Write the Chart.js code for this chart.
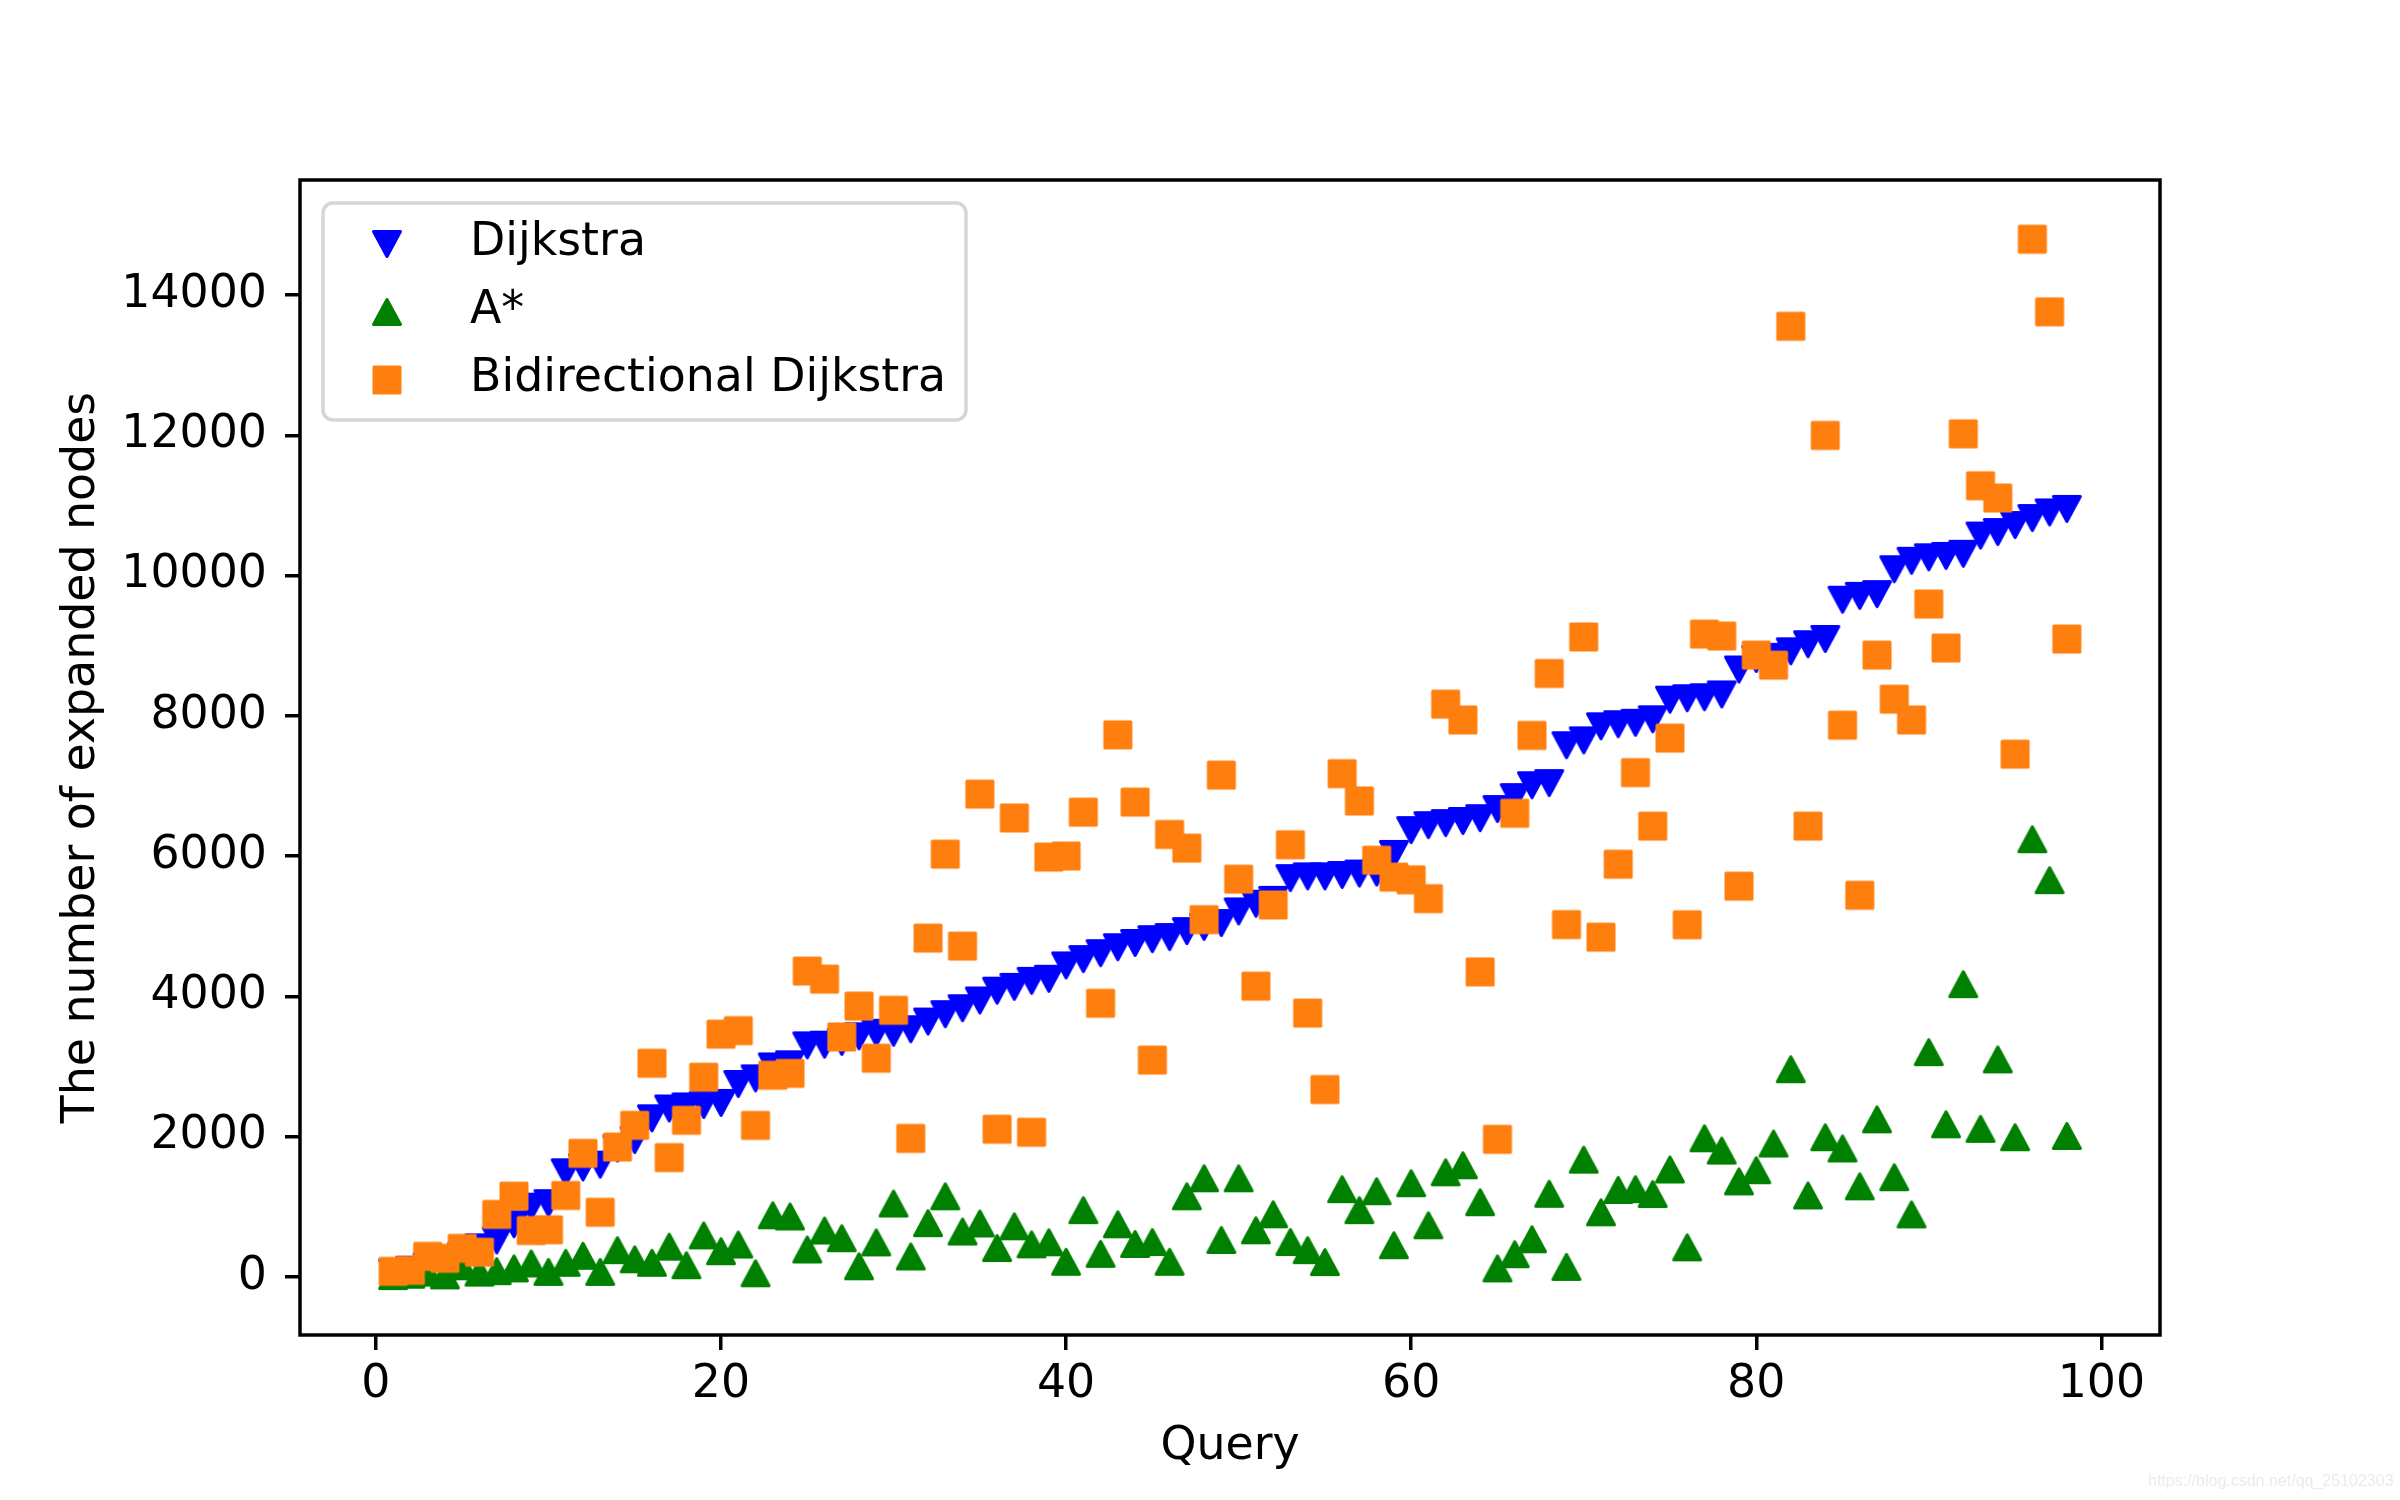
<!DOCTYPE html>
<html>
<head>
<meta charset="utf-8">
<title>Expanded nodes per query</title>
<script src="https://cdn.jsdelivr.net/npm/chart.js@4.4.0/dist/chart.umd.min.js"></script>
<style>
    html, body { margin: 0; padding: 0; background: #ffffff; }
    #cadre { position: relative; width: 2400px; height: 1500px; }
    #graphique { display: block; width: 2400px; height: 1500px; }
    #filigrane {
        position: absolute; left: 2148px; top: 1473px;
        font: 16px "Liberation Sans", Arial, sans-serif; line-height: 16px;
        color: #ebebeb; white-space: nowrap;
    }
</style>
</head>
<body>
<div id="cadre">
    <canvas id="graphique" width="2400" height="1500"></canvas>
    <div id="filigrane">https://blog.csdn.net/qq_25102303</div>
</div>
<script>
// requetes 1..98
var requetes = [1, 2, 3, 4, 5, 6, 7, 8, 9, 10, 11, 12, 13, 14, 15, 16, 17, 18, 19, 20,
    21, 22, 23, 24, 25, 26, 27, 28, 29, 30, 31, 32, 33, 34, 35, 36, 37, 38, 39, 40,
    41, 42, 43, 44, 45, 46, 47, 48, 49, 50, 51, 52, 53, 54, 55, 56, 57, 58, 59, 60,
    61, 62, 63, 64, 65, 66, 67, 68, 69, 70, 71, 72, 73, 74, 75, 76, 77, 78, 79, 80,
    81, 82, 83, 84, 85, 86, 87, 88, 89, 90, 91, 92, 93, 94, 95, 96, 97, 98];

var noeudsDijkstra = [60, 100, 150, 200, 300, 420, 520, 750, 1000, 1050,
    1490, 1560, 1600, 1830, 1950, 2260, 2400, 2430, 2450, 2480,
    2750, 2830, 3000, 3030, 3300, 3310, 3350, 3430, 3480, 3480,
    3530, 3640, 3745, 3830, 3940, 4080, 4135, 4220, 4250, 4440,
    4530, 4615, 4700, 4760, 4815, 4845, 4930, 4990, 5045, 5210,
    5320, 5375, 5685, 5710, 5710, 5730, 5750, 5765, 6030, 6370,
    6440, 6470, 6500, 6540, 6670, 6840, 7010, 7040, 7580, 7650,
    7850, 7880, 7900, 7950, 8230, 8250, 8265, 8305, 8660, 8810,
    8840, 8920, 9020, 9095, 9655, 9710, 9735, 10090, 10210, 10260,
    10280, 10310, 10570, 10620, 10720, 10820, 10900, 10950];

var noeudsAEtoile = [10, 30, 60, 20, 150, 60, 80, 120, 190, 70,
    200, 300, 70, 380, 250, 200, 430, 165, 590, 365,
    460, 50, 877, 860, 390, 660, 550, 150, 490, 1045,
    290, 765, 1148, 645, 760, 410, 720, 463, 492, 214,
    950, 327, 749, 468, 496, 214, 1148, 1405, 525, 1405,
    663, 891, 496, 380, 210, 1250, 950, 1220, 450, 1334,
    735, 1490, 1590, 1063, 120, 322, 535, 1184, 141, 1670,
    920, 1238, 1250, 1180, 1530, 420, 1975, 1800, 1360, 1520,
    1900, 2960, 1160, 1990, 1830, 1290, 2245, 1420, 890, 3203,
    2175, 4173, 2110, 3100, 1990, 6240, 5656, 2008];

var noeudsBidirectionnel = [78, 93, 292, 264, 406, 350, 890, 1150, 660, 670,
    1160, 1760, 920, 1850, 2160, 3045, 1700, 2232, 2846, 3460,
    3510, 2159, 2874, 2900, 4360, 4245, 3420, 3860, 3117, 3800,
    1973, 4830, 6027, 4716, 6883, 2104, 6543, 2061, 5985, 6000,
    6626, 3900, 7728, 6769, 3090, 6307, 6113, 5093, 7154, 5670,
    4144, 5302, 6160, 3760, 2670, 7175, 6785, 5940, 5700, 5660,
    5392, 8166, 7940, 4348, 1960, 6610, 7720, 8603, 5022, 9124,
    4843, 5883, 7190, 6427, 7682, 5020, 9165, 9137, 5570, 8865,
    8722, 13554, 6427, 11998, 7865, 5440, 8865, 8237, 7940, 9593,
    8966, 12020, 11280, 11105, 7453, 14796, 13760, 9094];

var nomsSeries = ['Dijkstra', 'A*', 'Bidirectional Dijkstra'];
var ticksX = [0, 20, 40, 60, 80, 100];
var ticksY = [0, 2000, 4000, 6000, 8000, 10000, 12000, 14000];

var police = '"DejaVu Sans", "Liberation Sans", sans-serif';
var taille = 45.8;

// petits marqueurs dessines a la main (triangles isoceles comme matplotlib)
function creerMarqueur(forme, couleur) {
    var c = document.createElement('canvas');
    c.width = 32;
    c.height = 32;
    var g = c.getContext('2d');
    g.fillStyle = couleur;
    g.strokeStyle = couleur;
    g.lineWidth = 3;
    g.lineJoin = 'round';
    g.beginPath();
    if (forme === 'haut') {
        g.moveTo(16, 3.5); g.lineTo(29.5, 28.5); g.lineTo(2.5, 28.5);
    } else if (forme === 'bas') {
        g.moveTo(2.5, 3.5); g.lineTo(29.5, 3.5); g.lineTo(16, 28.5);
    } else {
        g.rect(3, 3, 26, 26);
    }
    g.closePath();
    g.fill();
    g.stroke();
    return c;
}

function points(valeurs) {
    return requetes.map(function (q, i) { return { x: q, y: valeurs[i] }; });
}

function rectArrondi(ctx, x, y, w, h, r) {
    ctx.beginPath();
    ctx.moveTo(x + r, y);
    ctx.arcTo(x + w, y, x + w, y + h, r);
    ctx.arcTo(x + w, y + h, x, y + h, r);
    ctx.arcTo(x, y + h, x, y, r);
    ctx.arcTo(x, y, x + w, y, r);
    ctx.closePath();
}

// cadre des axes + legende dans le coin haut gauche
var cadreLegende = {
    id: 'cadreLegende',
    afterDatasetsDraw: function (chart) {
        var ctx = chart.ctx;
        var zone = chart.chartArea;
        ctx.save();
        ctx.strokeStyle = '#000000';
        ctx.lineWidth = 3.5;
        ctx.strokeRect(zone.left, zone.top, zone.right - zone.left, zone.bottom - zone.top);

        rectArrondi(ctx, zone.left + 23, zone.top + 23, 643, 217, 10);
        ctx.fillStyle = 'rgba(255,255,255,0.8)';
        ctx.fill();
        ctx.strokeStyle = '#d6d6d6';
        ctx.lineWidth = 3.5;
        ctx.stroke();

        ctx.font = taille + 'px ' + police;
        ctx.fillStyle = '#000000';
        ctx.textBaseline = 'alphabetic';
        ctx.textAlign = 'left';
        chart.data.datasets.forEach(function (ds, i) {
            var cy = zone.top + 64 + i * 68;
            var m = ds.pointStyle;
            ctx.drawImage(m, zone.left + 87 - m.width / 2, cy - m.height / 2);
            ctx.fillText(ds.label, zone.left + 170, cy + 11);
        });
        ctx.restore();
    }
};

var ctx = document.getElementById('graphique').getContext('2d');

var grafique = new Chart(ctx, {
    type: 'scatter',
    data: {
        datasets: [
            {
                label: nomsSeries[0],
                data: points(noeudsDijkstra),
                pointStyle: creerMarqueur('bas', '#0000ff'),
                pointRadius: 15,
                order: 3
            },
            {
                label: nomsSeries[1],
                data: points(noeudsAEtoile),
                pointStyle: creerMarqueur('haut', '#008000'),
                pointRadius: 15,
                order: 2
            },
            {
                label: nomsSeries[2],
                data: points(noeudsBidirectionnel),
                pointStyle: creerMarqueur('carre', '#ff7f0e'),
                pointRadius: 15,
                order: 1
            }
        ]
    },
    options: {
        responsive: false,
        animation: false,
        devicePixelRatio: 1,
        layout: { padding: { left: 0, top: 180, right: 240, bottom: 0 } },
        plugins: {
            legend: { display: false },
            tooltip: { enabled: false }
        },
        scales: {
            x: {
                type: 'linear',
                min: -4.4,
                max: 103.4,
                afterFit: function (scale) { scale.height = 165; },
                afterBuildTicks: function (scale) {
                    scale.ticks = ticksX.map(function (v) { return { value: v }; });
                },
                border: { display: false },
                grid: { display: true, drawOnChartArea: false, drawTicks: true, tickLength: 15, color: '#000000', lineWidth: 3.5 },
                ticks: {
                    color: '#000000', padding: 8, maxRotation: 0,
                    font: { family: police, size: taille },
                    callback: function (v) { return String(v); }
                },
                title: {
                    display: true, text: 'Query', color: '#000000',
                    font: { family: police, size: taille },
                    padding: { top: 0, bottom: 25 }
                }
            },
            y: {
                type: 'linear',
                min: -830,
                max: 15640,
                afterFit: function (scale) { scale.width = 300; },
                afterBuildTicks: function (scale) {
                    scale.ticks = ticksY.map(function (v) { return { value: v }; });
                },
                border: { display: false },
                grid: { display: true, drawOnChartArea: false, drawTicks: true, tickLength: 15, color: '#000000', lineWidth: 3.5 },
                ticks: {
                    color: '#000000', padding: 18,
                    font: { family: police, size: taille },
                    callback: function (v) { return String(v); }
                },
                title: {
                    display: true, text: 'The number of expanded nodes', color: '#000000',
                    font: { family: police, size: taille },
                    padding: { top: 55, bottom: 0 }
                }
            }
        }
    },
    plugins: [cadreLegende]
});
</script>
</body>
</html>
